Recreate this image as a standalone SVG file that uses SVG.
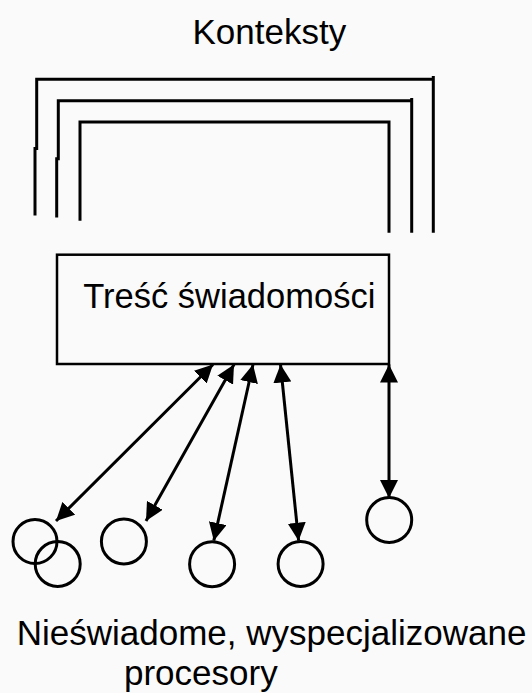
<svg xmlns="http://www.w3.org/2000/svg" width="532" height="693" viewBox="0 0 532 693">
<style>
.t{font-family:"Liberation Sans",Arial,sans-serif;font-size:35px;fill:#000}
.br{fill:none;stroke:#000;stroke-width:3;stroke-linejoin:miter;stroke-linecap:butt}
.box{fill:none;stroke:#000;stroke-width:2.5}
.c{fill:none;stroke:#000;stroke-width:3}
.a{stroke:#000;stroke-width:3;fill:none;marker-start:url(#ah);marker-end:url(#ah)}
</style>
<defs>
<marker id="ah" markerUnits="userSpaceOnUse" markerWidth="18" markerHeight="18" refX="16" refY="8" orient="auto-start-reverse" viewBox="0 0 16 16">
<path d="M0,0 L16,8 L0,16 z" fill="#000"/>
</marker>
</defs>
<rect width="532" height="693" fill="#fafafa"/>
<g id="konteksty">
<text class="t" x="192.5" y="43.5">Konteksty</text>
<path class="br" d="M35,215.5 V148.5 H36.7 V79.3 H433.3 V232.7 M433.3,76 V80"/>
<path class="br" d="M56.7,217.5 V158.7 H58.3 V100.7 H411.7 V232.7 M411.7,98 V102"/>
<path class="br" d="M80,220.7 V122 H389 V232.7"/>
</g>
<g id="tresc">
<rect class="box" x="57" y="254.7" width="332" height="109.3"/>
<text class="t" x="83.3" y="307.7" style="font-size:34.5px">Treść świadomości</text>
</g>
<g id="p1"><circle class="c" cx="35" cy="541.5" r="22"/></g>
<g id="p2"><circle class="c" cx="57.7" cy="564" r="22.5"/></g>
<g id="p3"><circle class="c" cx="123.9" cy="541.5" r="22.5"/></g>
<g id="p4"><circle class="c" cx="212.1" cy="564.2" r="22.5"/></g>
<g id="p5"><circle class="c" cx="300.6" cy="564" r="22.5"/></g>
<g id="p6"><circle class="c" cx="389.2" cy="520" r="22.5"/></g>
<g id="procesory">
<text class="t" x="16.7" y="645">Nieświadome, wyspecjalizowane</text>
<text class="t" x="124" y="685">procesory</text>
</g>
<g id="connectors">
<line class="a" x1="213" y1="364.5" x2="56" y2="521"/>
<line class="a" x1="234" y1="364.5" x2="146" y2="521"/>
<line class="a" x1="253" y1="364.5" x2="213.8" y2="540.7"/>
<line class="a" x1="280.5" y1="364.5" x2="298.6" y2="540.7"/>
<line class="a" x1="389" y1="364.5" x2="389" y2="498"/>
</g>
</svg>
